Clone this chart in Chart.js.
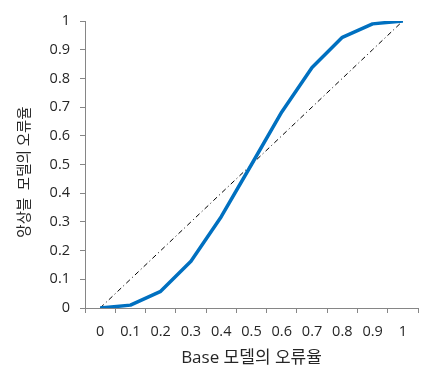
<!DOCTYPE html>
<html>
<head>
<meta charset="utf-8">
<script src="https://cdn.jsdelivr.net/npm/chart.js@4"></script>
<style>
  html, body { margin: 0; padding: 0; background: #fff; }
  #wrap { width: 442px; height: 374px; }
</style>
</head>
<body>
<div id="wrap"><canvas id="errChart" width="442" height="374"></canvas></div>
<script>
const categories = ['0', '0.1', '0.2', '0.3', '0.4', '0.5', '0.6', '0.7', '0.8', '0.9', '1'];
const ensembleError = [0, 0.01, 0.058, 0.163, 0.318, 0.5, 0.683, 0.838, 0.943, 0.99, 1];
const baseError = [0, 0.1, 0.2, 0.3, 0.4, 0.5, 0.6, 0.7, 0.8, 0.9, 1];
const yTicks = [0, 0.1, 0.2, 0.3, 0.4, 0.5, 0.6, 0.7, 0.8, 0.9, 1];

const fontFamily = "'Open Sans', 'Noto Sans CJK KR', sans-serif";
const axisGray = '#868686';

const ctx = document.getElementById('errChart').getContext('2d');
new Chart(ctx, {
    type: 'line',
    data: {
        labels: categories,
        datasets: [{
            label: '앙상블',
            data: ensembleError,
            borderColor: '#0070C0',
            borderWidth: 3.5,
            pointRadius: 0,
            tension: 0,
            borderJoinStyle: 'round',
            order: 1
        }, {
            label: 'Base',
            data: baseError,
            borderColor: '#000000',
            borderWidth: 1,
            borderDash: [5, 3, 1, 3],
            pointRadius: 0,
            tension: 0,
            order: 2
        }]
    },
    options: {
        responsive: false,
        animation: false,
        layout: { padding: { top: 21, right: 24, left: 0, bottom: 0 } },
        plugins: {
            legend: { display: false },
            tooltip: { enabled: false }
        },
        scales: {
            x: {
                offset: true,
                grid: {
                    offset: true,
                    drawOnChartArea: false,
                    drawTicks: true,
                    tickLength: 5,
                    color: axisGray
                },
                border: { color: axisGray, width: 1 },
                ticks: {
                    color: '#262626',
                    font: { family: fontFamily, size: 14.5 },
                    padding: 10,
                    maxRotation: 0,
                    autoSkip: false
                },
                title: {
                    display: true,
                    text: 'Base 모델의 오류율',
                    color: '#262626',
                    font: { family: fontFamily, size: 17 },
                    padding: { top: 2, bottom: 6 }
                },
                afterFit: s => { s.height = 66; }
            },
            y: {
                min: 0,
                max: 1,
                afterBuildTicks: s => { s.ticks = yTicks.map(v => ({ value: v })); },
                grid: {
                    drawOnChartArea: false,
                    drawTicks: true,
                    tickLength: 5,
                    color: axisGray
                },
                border: { color: axisGray, width: 1 },
                ticks: {
                    color: '#262626',
                    font: { family: fontFamily, size: 14.5 },
                    padding: 10,
                    callback: v => String(Math.round(v * 10) / 10)
                },
                title: {
                    display: true,
                    text: '앙상블  모델의 오류율    ',
                    color: '#262626',
                    font: { family: fontFamily, size: 14.5 },
                    padding: { top: 16, bottom: 0 }
                },
                afterFit: s => { s.width = 85; }
            }
        }
    }
});
</script>
</body>
</html>
